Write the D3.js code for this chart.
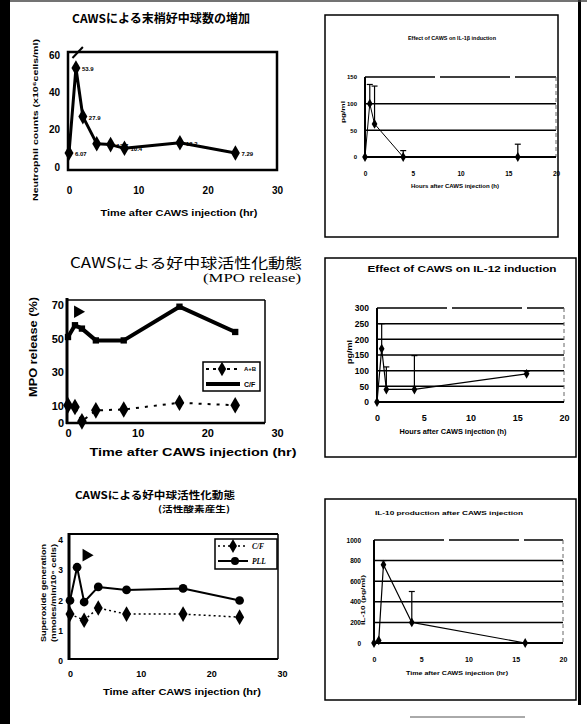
<!DOCTYPE html>
<html><head><meta charset="utf-8">
<script src="https://cdn.jsdelivr.net/npm/d3@7"></script>
<style>body{margin:0;background:#fff;} svg{display:block;}</style>
</head><body><svg id="c" width="587" height="724"></svg>
<script>
// ---------- DATA ----------
// Panel 1: neutrophil counts
const neutroTimes  = [0, 1, 2, 4, 6, 8, 16, 24];
const neutroCounts = [7.5, 53, 27, 12.5, 12, 10, 13, 7.5];
const neutroLabels = ["6.07", "53.9", "27.9", "", "12.7", "10.4", "13.2", "7.29"];
const neutroXTicks = [0, 10, 20, 30];
const neutroYTicks = [0, 20, 40, 60];

// Panel 2: IL-1beta
const il1Times  = [0, 0.5, 1, 4, 16];
const il1Values = [0, 100, 62, 0, 0];
const il1Errors = [0, 36, 71, 12, 24];
const il1YTicks = [0, 50, 100, 150];

// Panel 3: MPO release
const mpoTimes = [0, 1, 2, 4, 8, 16, 24];
const mpoCF    = [51, 58, 56, 49, 49, 69, 54];
const mpoAB    = [10.5, 9.5, 1, 7.5, 8, 12, 10.5];
const mpoMark  = [[1.4, 66]];
const mpoXTicks = [0, 10, 20, 30];
const mpoYTicks = [0, 10, 30, 50, 70];
const mpoSeriesNames = ["A+B", "C/F"];

// Panel 4: IL-12
const il12Times  = [0, 0.5, 1, 4, 16];
const il12Values = [0, 170, 40, 40, 90];
const il12Errors = [0, 80, 72, 108, 8];
const il12YTicks = [0, 50, 100, 150, 200, 250, 300];

// Panel 5: superoxide
const soTimesPLL = [0, 1, 2, 4, 8, 16, 24];
const soPLL      = [2.0, 3.1, 1.95, 2.45, 2.35, 2.4, 2.0];
const soTimesCF  = [0, 2, 4, 8, 16, 24];
const soCF       = [1.55, 1.35, 1.75, 1.55, 1.55, 1.45];
const soMark     = [[2.3, 3.5]];
const soXTicks = [0, 10, 20, 30];
const soYTicks = [0, 1, 2, 3, 4];
const soSeriesNames = ["C/F", "PLL"];

// Panel 6: IL-10
const il10Times  = [0, 0.5, 1, 4, 16];
const il10Values = [0, 25, 760, 200, 0];
const il10Errors = [0, 0, 40, 300, 0];
const il10YTicks = [0, 200, 400, 600, 800, 1000];

const ilXTicks = [0, 5, 10, 15, 20];

// ---------- HELPERS ----------
const svg = d3.select("#c");
const SANS = "'Liberation Sans', Arial, sans-serif";
const CJK = "'Noto Sans CJK JP', sans-serif";

function txt(x, y, s, o) {
  const t = svg.append("text").attr("x", x).attr("y", y).text(s)
    .attr("font-size", o.fs).attr("font-weight", o.fw || "bold")
    .attr("font-family", o.family || SANS)
    .attr("text-anchor", o.anchor || "middle")
    .attr("dominant-baseline", "central").attr("fill", "#000");
  if (o.len) t.attr("textLength", o.len).attr("lengthAdjust", "spacingAndGlyphs");
  if (o.rot) t.attr("transform", `rotate(-90,${x},${y})`);
  if (o.italic) t.attr("font-style", "italic");
  return t;
}
function line(x1, y1, x2, y2, sw, dash, col) {
  const l = svg.append("line").attr("x1", x1).attr("y1", y1).attr("x2", x2).attr("y2", y2)
    .attr("stroke", col || "#000").attr("stroke-width", sw);
  if (dash) l.attr("stroke-dasharray", dash);
  return l;
}
function rect(x, y, w, h, sw) {
  svg.append("rect").attr("x", x).attr("y", y).attr("width", w).attr("height", h)
    .attr("fill", "none").attr("stroke", "#000").attr("stroke-width", sw);
}
function yAxis(scale, ticks, x, fs, fmt) {
  svg.append("g").attr("transform", `translate(${x},0)`)
    .call(d3.axisLeft(scale).tickValues(ticks).tickSize(0).tickPadding(0).tickFormat(fmt || d3.format("d")))
    .call(g => g.select(".domain").remove())
    .attr("font-family", SANS).attr("font-size", fs).attr("font-weight", "bold")
    .call(g => g.selectAll("text").attr("fill", "#000"));
}
function xAxis(scale, ticks, y, fs) {
  svg.append("g").attr("transform", `translate(0,${y})`)
    .call(d3.axisBottom(scale).tickValues(ticks).tickSize(0).tickPadding(0).tickFormat(d3.format("d")))
    .call(g => g.select(".domain").remove())
    .attr("font-family", SANS).attr("font-size", fs).attr("font-weight", "bold")
    .call(g => g.selectAll("text").attr("fill", "#000").attr("dy", "0.35em"));
}
function markers(xs, ys, times, vals, type, size) {
  svg.append("g").selectAll("path").data(times.map((t, i) => [t, vals[i]])).join("path")
    .attr("transform", d => `translate(${xs(d[0])},${ys(d[1])})`)
    .attr("d", d3.symbol(type, size)).attr("fill", "#000");
}
function path(xs, ys, times, vals, sw, dash) {
  const p = svg.append("path").datum(times.map((t, i) => [t, vals[i]]))
    .attr("d", d3.line().x(d => xs(d[0])).y(d => ys(d[1])))
    .attr("fill", "none").attr("stroke", "#000").attr("stroke-width", sw)
    .attr("stroke-linejoin", "round");
  if (dash) p.attr("stroke-dasharray", dash);
}
function triangles(xs, ys, pts, size) {
  svg.append("g").selectAll("path").data(pts).join("path")
    .attr("transform", d => `translate(${xs(d[0])},${ys(d[1])}) rotate(90)`)
    .attr("d", d3.symbol(d3.symbolTriangle, size)).attr("fill", "#000");
}

// ---------- PAGE BORDERS (scan edges) ----------
svg.append("rect").attr("x", 0).attr("y", 0).attr("width", 587).attr("height", 724).attr("fill", "#fff");
svg.append("rect").attr("x", 0).attr("y", 0).attr("width", 10).attr("height", 724).attr("fill", "#000");
svg.append("rect").attr("x", 578).attr("y", 0).attr("width", 3).attr("height", 705).attr("fill", "#000");
line(10, 1, 587, 1, 1.5, null, "#444");
line(410, 717, 525, 717, 1, null, "#555");

// ---------- PANEL 1 : Neutrophil counts ----------
{
  const xs = d3.scaleLinear([0, 30], [69, 277]);
  const ys = d3.scaleLinear([0, 60], [167, 55]);
  txt(161, 17, "CAWSによる末梢好中球数の増加", {fs: 12, family: CJK, len: 178});
  rect(68, 52, 209, 118, 2.5);
  yAxis(ys, neutroYTicks, 60, 10);
  xAxis(xs, neutroXTicks, 190, 10);
  txt(35, 120, "Neutrophil counts (x10⁶cells/ml)", {fs: 8, rot: true, len: 162});
  txt(179, 213, "Time after CAWS injection (hr)", {fs: 9, len: 157});
  path(xs, ys, neutroTimes, neutroCounts, 3);
  markers(xs, ys, neutroTimes, neutroCounts, d3.symbolDiamond, 70);
  svg.append("g").selectAll("text").data(neutroTimes.map((t, i) => [t, neutroCounts[i], neutroLabels[i]]))
    .join("text").attr("x", d => xs(d[0]) + 6).attr("y", d => ys(d[1]) + 1)
    .attr("font-size", 6).attr("font-weight", "bold").attr("font-family", SANS)
    .attr("dominant-baseline", "central").text(d => d[2]);
  // upper tick mark above the peak
  line(xs(0.5), ys(60) + 3, xs(2), ys(60) - 8, 2);
}

// ---------- PANEL 2 : IL-1beta ----------
{
  const xs = d3.scaleLinear([0, 20], [365, 556]);
  const ys = d3.scaleLinear([0, 150], [157, 77]);
  rect(325, 15, 233, 222, 1.5);
  txt(452, 38, "Effect of CAWS on IL-1β induction", {fs: 6, len: 88});
  il1YTicks.slice(1, -1).forEach(v => line(xs(0), ys(v), xs(20), ys(v), 1.5));
  line(xs(0), ys(150), xs(20), ys(150), 1.3, "70,5");
  line(xs(20), ys(150), xs(20), ys(0), 1, "4,3", "#666");
  line(xs(0), ys(0), xs(20), ys(0), 2);
  line(xs(0), ys(150), xs(0), ys(0), 2);
  yAxis(ys, il1YTicks, 357, 6);
  xAxis(xs, ilXTicks, 174, 6.5);
  txt(343, 112, "pg/ml", {fs: 6, rot: true, len: 22});
  txt(455, 186, "Hours after CAWS injection (h)", {fs: 6, len: 88});
  il1Times.forEach((t, i) => {
    if (il1Errors[i] > 0) {
      line(xs(t), ys(il1Values[i]), xs(t), ys(il1Values[i] + il1Errors[i]), 1.2);
      line(xs(t) - 3, ys(il1Values[i] + il1Errors[i]), xs(t) + 3, ys(il1Values[i] + il1Errors[i]), 1.2);
    }
  });
  path(xs, ys, il1Times, il1Values, 1);
  markers(xs, ys, il1Times, il1Values, d3.symbolDiamond, 28);
}

// ---------- PANEL 3 : MPO release ----------
{
  const xs = d3.scaleLinear([0, 30], [68, 277]);
  const ys = d3.scaleLinear([0, 70], [423, 305]);
  txt(186, 262, "CAWSによる好中球活性化動態", {fs: 14, fw: "normal", family: CJK, len: 232});
  txt(252, 278, "(MPO release)", {fs: 12, fw: "normal", family: "'Liberation Serif', serif", len: 98});
  line(67, 300, 265, 300, 1.5);
  line(265, 300, 265, 423, 1.5);
  line(67, 298, 67, 424, 3);
  line(66, 423, 265, 423, 2.5);
  yAxis(ys, mpoYTicks, 64, 11);
  xAxis(xs, mpoXTicks, 433, 11);
  txt(33, 347, "MPO release (%)", {fs: 10, rot: true, len: 100});
  txt(193, 452, "Time after CAWS injection (hr)", {fs: 11, len: 207});
  path(xs, ys, mpoTimes, mpoAB, 2, "3,6");
  markers(xs, ys, mpoTimes, mpoAB, d3.symbolDiamond, 80);
  path(xs, ys, mpoTimes, mpoCF, 4);
  markers(xs, ys, mpoTimes, mpoCF, d3.symbolSquare, 40);
  triangles(xs, ys, mpoMark, 70);
  // legend
  svg.append("rect").attr("x", 203).attr("y", 362).attr("width", 57).attr("height", 29)
    .attr("fill", "#fff").attr("stroke", "#000").attr("stroke-width", 1.5);
  line(206, 369, 240, 369, 2, "3,4");
  svg.append("path").attr("transform", "translate(222,369)").attr("d", d3.symbol(d3.symbolDiamond, 60)).attr("fill", "#000");
  line(206, 384, 240, 384, 4);
  txt(244, 369, mpoSeriesNames[0], {fs: 6, anchor: "start"});
  txt(244, 384, mpoSeriesNames[1], {fs: 7, anchor: "start"});
}

// ---------- PANEL 4 : IL-12 ----------
{
  const xs = d3.scaleLinear([0, 20], [377, 564]);
  const ys = d3.scaleLinear([0, 300], [402, 308]);
  rect(325, 258, 251, 199, 1.5);
  txt(462, 268, "Effect of CAWS on IL-12 induction", {fs: 9.5, len: 189});
  il12YTicks.slice(1, -1).forEach(v => line(xs(0), ys(v), xs(20), ys(v), 1.5));
  line(xs(0), ys(300), xs(20), ys(300), 1.3, "70,5");
  line(xs(20), ys(300), xs(20), ys(0), 1, "4,3", "#666");
  line(xs(0), ys(0), xs(20), ys(0), 2);
  line(xs(0), ys(300), xs(0), ys(0), 2);
  yAxis(ys, il12YTicks, 369, 8.5);
  xAxis(xs, ilXTicks, 418, 9);
  txt(349, 352, "pg/ml", {fs: 7, rot: true, len: 24});
  txt(453, 431, "Hours after CAWS injection (h)", {fs: 6.5, len: 107});
  il12Times.forEach((t, i) => {
    if (il12Errors[i] > 0) {
      line(xs(t), ys(il12Values[i]), xs(t), ys(il12Values[i] + il12Errors[i]), 1.2);
      line(xs(t) - 3, ys(il12Values[i] + il12Errors[i]), xs(t) + 3, ys(il12Values[i] + il12Errors[i]), 1.2);
    }
  });
  path(xs, ys, il12Times, il12Values, 1.2);
  markers(xs, ys, il12Times, il12Values, d3.symbolDiamond, 28);
}

// ---------- PANEL 5 : superoxide ----------
{
  const xs = d3.scaleLinear([0, 30], [70, 282]);
  const ys = d3.scaleLinear([0, 4], [661, 540]);
  txt(155, 494, "CAWSによる好中球活性化動態", {fs: 10, family: CJK, len: 160});
  txt(194, 508, "(活性酸素産生)", {fs: 8.5, family: CJK, len: 72});
  line(69, 534, 278, 534, 2);
  line(278, 534, 278, 659, 1.5);
  line(69, 533, 69, 660, 3);
  line(68, 659, 278, 659, 2);
  yAxis(ys, soYTicks, 63, 8.5);
  xAxis(xs, soXTicks, 674, 9);
  txt(43, 593, "Superoxide generation", {fs: 6.5, rot: true, len: 98});
  txt(53, 593, "(nmoles/min/10⁶ cells)", {fs: 6.5, rot: true, len: 98});
  txt(182, 692, "Time after CAWS injection (hr)", {fs: 9, len: 158});
  path(xs, ys, soTimesCF, soCF, 1.5, "2,3");
  markers(xs, ys, soTimesCF, soCF, d3.symbolDiamond, 70);
  path(xs, ys, soTimesPLL, soPLL, 2);
  markers(xs, ys, soTimesPLL, soPLL, d3.symbolCircle, 60);
  triangles(xs, ys, soMark, 70);
  // legend
  svg.append("rect").attr("x", 215).attr("y", 539).attr("width", 62).attr("height", 30)
    .attr("fill", "#fff").attr("stroke", "#000").attr("stroke-width", 1.5);
  line(218, 546, 248, 546, 1.5, "2,3");
  svg.append("path").attr("transform", "translate(233,546)").attr("d", d3.symbol(d3.symbolDiamond, 55)).attr("fill", "#000");
  line(218, 561, 248, 561, 2);
  svg.append("path").attr("transform", "translate(235,561)").attr("d", d3.symbol(d3.symbolCircle, 50)).attr("fill", "#000");
  txt(252, 546, soSeriesNames[0], {fs: 7.5, anchor: "start", italic: true, family: "'Liberation Serif', serif"});
  txt(252, 561, soSeriesNames[1], {fs: 7.5, anchor: "start", italic: true, family: "'Liberation Serif', serif"});
}

// ---------- PANEL 6 : IL-10 ----------
{
  const xs = d3.scaleLinear([0, 20], [374, 563]);
  const ys = d3.scaleLinear([0, 1000], [643, 540]);
  rect(325, 499, 251, 201, 1.5);
  txt(449, 513, "IL-10 production after CAWS injection", {fs: 5.5, len: 148});
  il10YTicks.slice(1, -1).forEach(v => line(xs(0), ys(v), xs(20), ys(v), 1.5));
  line(xs(0), ys(1000), xs(20), ys(1000), 1.3, "70,5");
  line(xs(20), ys(1000), xs(20), ys(0), 1, "4,3", "#666");
  line(xs(0), ys(0), xs(20), ys(0), 2);
  line(xs(0), ys(1000), xs(0), ys(0), 2);
  yAxis(ys, il10YTicks, 361, 6.5);
  xAxis(xs, ilXTicks, 660, 7);
  txt(363, 600, "IL-10 (pg/ml)", {fs: 6, rot: true, len: 50});
  txt(457, 673, "Time after CAWS injection (hr)", {fs: 6, len: 102});
  il10Times.forEach((t, i) => {
    if (il10Errors[i] > 0) {
      line(xs(t), ys(il10Values[i]), xs(t), ys(il10Values[i] + il10Errors[i]), 1.2);
      line(xs(t) - 3, ys(il10Values[i] + il10Errors[i]), xs(t) + 3, ys(il10Values[i] + il10Errors[i]), 1.2);
    }
  });
  path(xs, ys, il10Times, il10Values, 1.2);
  markers(xs, ys, il10Times, il10Values, d3.symbolDiamond, 28);
}
</script></body></html>
